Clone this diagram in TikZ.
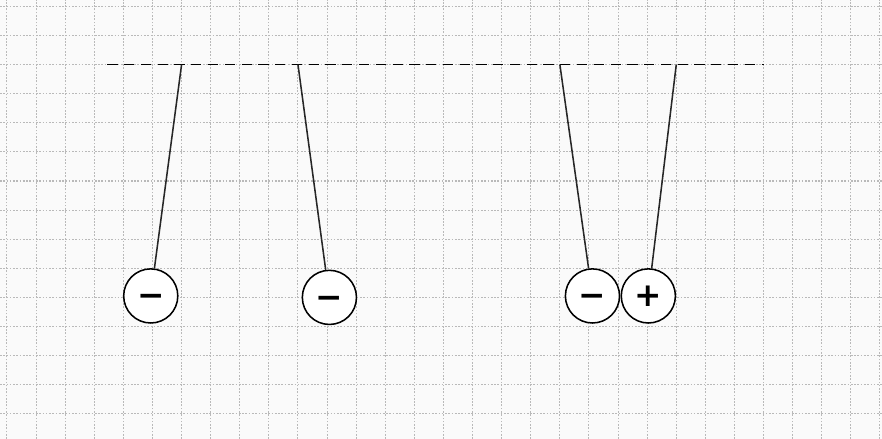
\documentclass[tikz,border=0pt]{standalone}
\usepackage{fontspec}
\setmainfont{DejaVu Sans}
\begin{document}
\begin{tikzpicture}[scale=0.5,
  gridline/.style={gray!55,dash pattern=on 0.8pt off 0.8pt,line width=0.5pt},
  thread/.style={line width=0.75pt,black!85},
  ball/.style={circle,draw,line width=0.75pt,fill=white,minimum size=0.93cm,inner sep=0pt,
    text height=1.05em,text depth=0pt,font=\fontsize{16}{16}\selectfont\bfseries}]
\useasboundingbox[fill=black!2] (-0.24,-14.86) rectangle (30.07,0.22);
\foreach \x in {0,...,30} \draw[gridline] (\x,-14.86)--(\x,0.22);
\foreach \y in {0,...,14} \draw[gridline] (-0.24,-\y)--(30.07,-\y);
% support
\draw[line width=0.75pt,dash pattern=on 5pt off 3.2pt] (3.45,-2)--(26,-2);
\foreach \n/\x in {a/6,b/10,c/19,d/23} \coordinate (hook\n) at (\x,-2);
% charged spheres
\node[ball] (balla) at (4.94,-9.95) {−};
\node[ball] (ballb) at (11.08,-10) {−};
\node[ball] (ballc) at (20.12,-9.95) {−};
\node[ball] (balld) at (22.04,-9.95) {+};
\foreach \n in {a,b,c,d} \draw[thread] (hook\n)--(ball\n);
\end{tikzpicture}
\end{document}
